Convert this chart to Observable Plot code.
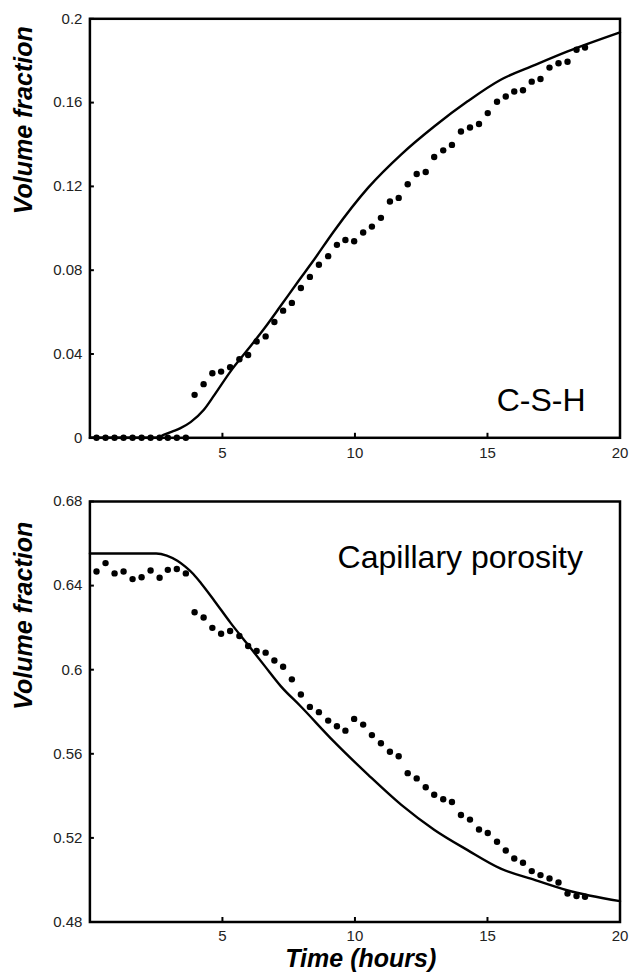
<!DOCTYPE html>
<html>
<head>
<meta charset="utf-8">
<script src="https://cdn.jsdelivr.net/npm/d3@7"></script>
<script src="https://cdn.jsdelivr.net/npm/@observablehq/plot@0.6"></script>
<style>
html, body { margin: 0; padding: 0; background: #fff; }
#chart { width: 630px; }
#chart svg { display: block; }
</style>
</head>
<body>
<div id="chart"></div>
<script>
// Observation times (hours)
const times = [0.25, 0.59, 0.93, 1.27, 1.61, 1.95, 2.29, 2.63, 2.94, 3.28, 3.62,
  3.95, 4.29, 4.62, 4.95, 5.29, 5.64, 5.97, 6.29, 6.63, 6.96, 7.29, 7.62, 7.96, 8.3, 8.64,
  8.99, 9.32, 9.64, 9.97, 10.31, 10.64, 10.98, 11.32, 11.65, 11.99, 12.33, 12.67, 12.99,
  13.33, 13.66, 14.0, 14.34, 14.68, 15.01, 15.36, 15.69, 16.01, 16.34, 16.67, 17.0, 17.34,
  17.68, 18.02, 18.36, 18.68];

// Measured C-S-H volume fraction (dots)
const cshObserved = [0, 0, 0, 0, 0, 0, 0, 0, 0, 0, 0,
  0.0205, 0.0256, 0.0308, 0.0316, 0.0337, 0.0375, 0.0395, 0.046, 0.0484, 0.0553, 0.0607,
  0.0644, 0.0715, 0.0768, 0.0826,
  0.0867, 0.0921, 0.0944, 0.0938, 0.098, 0.1008, 0.105, 0.1128, 0.1145, 0.121, 0.1259,
  0.1269, 0.134, 0.1372, 0.1398, 0.1462, 0.1481, 0.1498, 0.155, 0.1604, 0.1629, 0.1653,
  0.1659, 0.17, 0.1713, 0.1767, 0.1788, 0.1795, 0.1852, 0.1863];

// Measured capillary porosity (dots)
const porosityObserved = [0.6467, 0.6507, 0.6458, 0.6467, 0.6431, 0.644, 0.6472, 0.6437,
  0.6475, 0.6479, 0.6458,
  0.6273, 0.6248, 0.6199, 0.6171, 0.6184, 0.616, 0.6113, 0.6089, 0.6081, 0.6044, 0.6014, 0.5954,
  0.5882, 0.5823, 0.5798, 0.5758, 0.5731, 0.571, 0.5766, 0.5739, 0.5689, 0.565, 0.561,
  0.5588, 0.5508, 0.5483, 0.5441, 0.5405, 0.5384, 0.5371, 0.5309, 0.5287, 0.524, 0.5223,
  0.5182, 0.514, 0.5102, 0.5082, 0.5042, 0.5023, 0.5007, 0.4988, 0.4935, 0.4924, 0.492];

// Model curves (solid lines)
const cshModelTimes = [0, 2.5, 2.8, 3.1, 3.4, 3.8, 4.3, 4.7, 5.3, 5.95, 6.6, 7.2, 7.85, 8.4,
  9.2, 10.5, 11.75, 13, 14.25, 15.5, 16.8, 18, 20];
const cshModel = [0, 0, 0.0015, 0.003, 0.0045, 0.0075, 0.0134, 0.0205, 0.0316, 0.042, 0.0525,
  0.063, 0.0745, 0.084, 0.0985, 0.1194, 0.1353, 0.1487, 0.1606, 0.1709, 0.178, 0.1843, 0.1935];

const porModelTimes = [0, 2.5, 2.9, 3.3, 3.6, 3.9, 4.2, 4.7, 5.3, 5.95, 6.6, 7.2, 7.95, 9.2,
  10.5, 11.75, 13, 14.25, 15.5, 16.8, 18, 20];
const porModel = [0.6553, 0.6553, 0.6543, 0.6518, 0.649, 0.6455, 0.641, 0.6327, 0.6224, 0.6121,
  0.6017, 0.5922, 0.5826, 0.5659, 0.55, 0.5357, 0.5238, 0.5142, 0.5054, 0.4999, 0.4951, 0.4899];

// Ticks and labels
const xTickLabels = [5, 10, 15, 20];
const xTickMarks = [5, 10, 15];
const cshTicks = [0, 0.04, 0.08, 0.12, 0.16, 0.2];
const porTicks = [0.48, 0.52, 0.56, 0.6, 0.64, 0.68];
const xLabel = "Time (hours)";
const yLabel = "Volume fraction";
const cshTitle = "C-S-H";
const porTitle = "Capillary porosity";

const FONT = "'Liberation Sans', Arial, Helvetica, sans-serif";
const W = 630, ML = 89.4, MR = 10.5;
const fmt = d => String(+d.toFixed(2));

function panel(o) {
  const frameH = o.height - o.marginTop - o.marginBottom;
  const frameW = W - ML - MR;
  const obsData = times.map((t, i) => ({t, v: o.obs[i]}));
  const modelData = o.modelT.map((t, i) => ({t, v: o.model[i]}));
  return Plot.plot({
    width: W,
    height: o.height,
    marginTop: o.marginTop,
    marginBottom: o.marginBottom,
    marginLeft: ML,
    marginRight: MR,
    style: {fontFamily: FONT, color: "#222", background: "#fff", overflow: "visible"},
    x: {domain: [0, 20]},
    y: {domain: o.yDomain},
    marks: [
      Plot.axisX({ticks: xTickLabels, tickSize: 0, tickPadding: o.xPad, fontSize: 15, label: null, tickFormat: d => String(d)}),
      Plot.axisY({ticks: o.yTicks, tickSize: 0, tickPadding: 7.5, fontSize: 15, label: null, tickFormat: fmt}),
      Plot.tickX(xTickMarks, {x: d => d, insetTop: frameH - 4.5, strokeWidth: 2, stroke: "#000"}),
      Plot.tickY(o.yTicks, {y: d => d, insetRight: frameW - 4.5, strokeWidth: 2, stroke: "#000"}),
      Plot.line(modelData, {x: "t", y: "v", curve: "monotone-x", strokeWidth: 2.4, stroke: "#000"}),
      Plot.dot(obsData, {x: "t", y: "v", r: 3.2, fill: "#000"}),
      Plot.frame({stroke: "#000", strokeWidth: 2.5}),
      Plot.text([o.title], {frameAnchor: o.titleAnchor, textAnchor: "end", dx: o.titleDx, dy: o.titleDy, fontSize: 32, fill: "#000"}),
      Plot.text([yLabel], {frameAnchor: "left", rotate: -90, dx: -66, dy: o.yLabelDy, fontSize: 25, fontWeight: "bold", fontStyle: "italic", fill: "#000"}),
      ...(o.extra || [])
    ]
  });
}

const topPanel = panel({
  height: 470, marginTop: 18.3, marginBottom: 32.7,
  yDomain: [0, 0.2], yTicks: cshTicks, xPad: 9.5,
  obs: cshObserved, modelT: cshModelTimes, model: cshModel,
  title: cshTitle, titleAnchor: "bottom-right", titleDx: -34.5, titleDy: -27,
  yLabelDy: -14
});

const bottomPanel = panel({
  height: 510, marginTop: 31, marginBottom: 58.5,
  yDomain: [0.48, 0.68], yTicks: porTicks, xPad: 8.5,
  obs: porosityObserved, modelT: porModelTimes, model: porModel,
  title: porTitle, titleAnchor: "top-right", titleDx: -37, titleDy: 43.8,
  yLabelDy: -2,
  extra: [
    Plot.text([xLabel], {frameAnchor: "bottom", dx: 5.8, dy: 45, fontSize: 25, fontWeight: "bold", fontStyle: "italic", fill: "#000"})
  ]
});

const chart = document.getElementById("chart");
chart.appendChild(topPanel);
chart.appendChild(bottomPanel);
</script>
</body>
</html>
